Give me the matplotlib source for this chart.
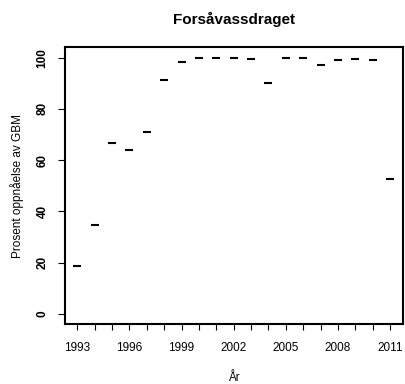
import matplotlib
matplotlib.use('Agg')
import matplotlib.pyplot as plt

plt.rcParams['font.family'] = ['Liberation Sans', 'DejaVu Sans']

years = [1993, 1994, 1995, 1996, 1997, 1998, 1999, 2000, 2001, 2002,
         2003, 2004, 2005, 2006, 2007, 2008, 2009, 2010, 2011]
percent = [18.7, 34.8, 66.6, 64.0, 71.0, 91.4, 98.2, 99.8, 100.0, 100.0,
           99.5, 90.0, 100.0, 100.0, 97.2, 99.1, 99.6, 99.1, 52.6]
x_labels = [1993, 1996, 1999, 2002, 2005, 2008, 2011]
y_ticks = [0, 20, 40, 60, 80, 100]

fig = plt.figure(figsize=(4.06, 3.84), dpi=100)
ax = fig.add_axes([0.1594, 0.1555, 0.8325, 0.7213])

ax.plot(years, percent, linestyle='none', marker='_', ms=5.5, mew=1.5, color='black')

ax.set_xlim(1993 - 0.72, 2011 + 0.72)
ax.set_ylim(-4, 104)

ax.set_xticks(years)
ax.set_xticklabels([str(y) if y in x_labels else '' for y in years], fontsize=8.5)
ax.set_yticks(y_ticks)
ax.set_yticklabels([str(v) for v in y_ticks], rotation=90, va='center',
                   fontsize=8.5, fontweight='bold')

ax.tick_params(axis='x', length=4.5, width=0.8, pad=8)
ax.tick_params(axis='y', length=5, width=0.8, pad=6.5)
for s in ax.spines.values():
    s.set_linewidth(1.5)

ax.set_title('Forsåvassdraget', fontsize=11, fontweight='bold', pad=17)
ax.set_xlabel('År', fontsize=8.5, labelpad=13.5)
ax.set_ylabel('Prosent oppnåelse av GBM', fontsize=8.5, labelpad=9)

fig.savefig('out.png', dpi=100)
